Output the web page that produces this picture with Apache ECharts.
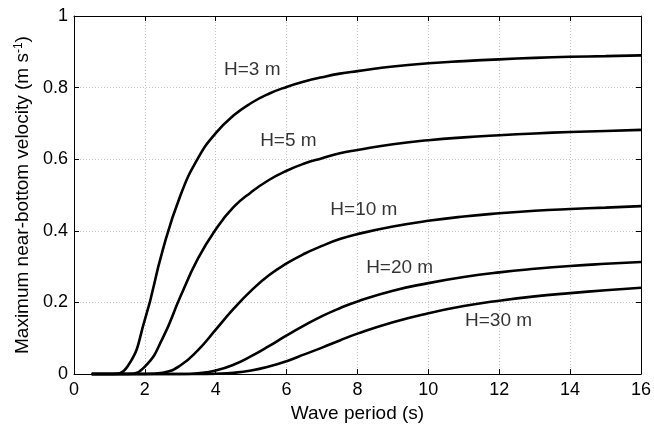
<!DOCTYPE html>
<html>
<head>
<meta charset="utf-8">
<script src="https://cdn.jsdelivr.net/npm/echarts@6/dist/echarts.min.js"></script>
<style>
  html, body { margin: 0; padding: 0; background: #fff; }
  #chart { width: 654px; height: 428px; }
</style>
</head>
<body>
<div id="chart"></div>
<script>
// wave period (s) shared by every curve
const periods = [0.5, 1, 1.5, 2, 2.5, 3, 3.5, 4, 4.5, 5, 5.5, 6, 6.5, 7, 7.5, 8, 9, 10, 11, 12, 13, 14, 15, 16];
// max near-bottom velocity (m/s) for each water depth
const velH3 = [0, 0, 0.02, 0.152, 0.345, 0.498, 0.603, 0.673, 0.722, 0.757, 0.783, 0.802, 0.817, 0.829, 0.839, 0.846, 0.859, 0.868, 0.874, 0.879, 0.883, 0.886, 0.888, 0.89];
const velH5 = [0, 0, 0, 0.021, 0.1, 0.216, 0.323, 0.404, 0.466, 0.508, 0.542, 0.568, 0.588, 0.603, 0.617, 0.626, 0.642, 0.653, 0.661, 0.667, 0.672, 0.676, 0.679, 0.682];
const velH10 = [0, 0, 0, 0, 0.004, 0.024, 0.067, 0.124, 0.182, 0.233, 0.276, 0.309, 0.336, 0.358, 0.377, 0.391, 0.412, 0.428, 0.44, 0.449, 0.456, 0.461, 0.465, 0.469];
const velH20 = [0, 0, 0, 0, 0, 0, 0.0025, 0.01, 0.026, 0.05, 0.078, 0.108, 0.136, 0.162, 0.184, 0.203, 0.233, 0.254, 0.271, 0.284, 0.294, 0.302, 0.308, 0.313];
const velH30 = [0, 0, 0, 0, 0, 0, 0, 0.001, 0.0036, 0.01, 0.021, 0.036, 0.055, 0.074, 0.094, 0.113, 0.145, 0.17, 0.19, 0.205, 0.217, 0.226, 0.234, 0.241];

const curveNames = ["H=3 m", "H=5 m", "H=10 m", "H=20 m", "H=30 m"];
const labelSpots = [[5.03, 0.85], [6.05, 0.651], [8.18, 0.459], [9.19, 0.298], [11.98, 0.149]];

const FONT = "Liberation Sans, Arial, Helvetica, sans-serif";

const chart = echarts.init(document.getElementById("chart"), null, { renderer: "canvas" });

const gridLine = { show: true, lineStyle: { color: "#c4c4c4", type: [1, 2], width: 1 } };
const boxLine = { show: true, onZero: false, lineStyle: { color: "#000", width: 1 } };
const inTick = { show: true, inside: true, length: 5, lineStyle: { color: "#000", width: 1 } };

function curveSeries(name, values) {
  return {
    name,
    type: "line",
    data: periods.map((t, i) => [t, values[i]]),
    showSymbol: false,
    smooth: 0.5,
    lineStyle: { color: "#000", width: 2.6 },
    silent: true,
    z: 3
  };
}

const option = {
  backgroundColor: "#fff",
  animation: false,
  grid: { left: 74, right: 11, top: 16, bottom: 52 },
  xAxis: [
    {
      type: "value", min: 0, max: 16, interval: 2,
      name: "Wave period (s)", nameLocation: "middle", nameGap: 29,
      nameTextStyle: { fontFamily: FONT, fontSize: 19, color: "#000" },
      axisLine: boxLine, axisTick: inTick,
      axisLabel: { fontFamily: FONT, fontSize: 18, color: "#000", margin: 7 },
      splitLine: gridLine
    },
    {
      type: "value", position: "top", min: 0, max: 16, interval: 2,
      axisLine: boxLine, axisTick: inTick, axisLabel: { show: false }, splitLine: { show: false }
    }
  ],
  yAxis: [
    {
      type: "value", min: 0, max: 1, interval: 0.2,
      name: "Maximum near-bottom velocity (m s{sup|-1})", nameLocation: "middle", nameGap: 38,
      nameTextStyle: {
        fontFamily: FONT, fontSize: 19, color: "#000",
        rich: { sup: { fontFamily: FONT, fontSize: 12, color: "#000", verticalAlign: "top", lineHeight: 19 } }
      },
      axisLine: boxLine, axisTick: inTick,
      axisLabel: { fontFamily: FONT, fontSize: 18, color: "#000", margin: 6 },
      splitLine: gridLine
    },
    {
      type: "value", position: "right", min: 0, max: 1, interval: 0.2,
      axisLine: boxLine, axisTick: inTick, axisLabel: { show: false }, splitLine: { show: false }
    }
  ],
  series: [
    curveSeries(curveNames[0], velH3),
    curveSeries(curveNames[1], velH5),
    curveSeries(curveNames[2], velH10),
    curveSeries(curveNames[3], velH20),
    curveSeries(curveNames[4], velH30),
    {
      type: "scatter",
      symbolSize: 0,
      silent: true,
      data: curveNames.map((n, i) => ({ name: n, value: labelSpots[i] })),
      label: {
        show: true, position: "inside", formatter: p => p.name,
        fontFamily: FONT, fontSize: 19, color: "#000"
      },
      z: 5
    }
  ]
};

chart.setOption(option);
</script>
</body>
</html>
